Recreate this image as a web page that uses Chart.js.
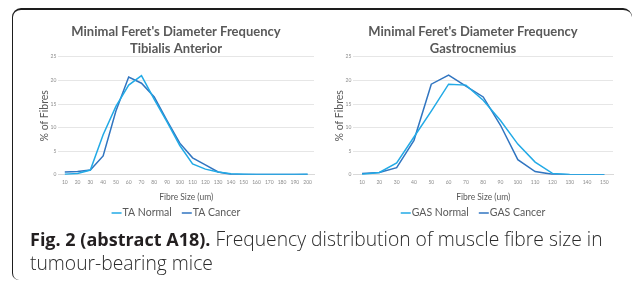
<!DOCTYPE html>
<html>
<head>
<meta charset="utf-8">
<script src="https://cdn.jsdelivr.net/npm/chart.js@4.4.1/dist/chart.umd.min.js"></script>
<style>
  html, body { margin: 0; padding: 0; background: #fff; }
  body { width: 635px; height: 281px; position: relative; overflow: hidden; font-family: Lato, "Open Sans", sans-serif; }
  .frame { position: absolute; left: 12px; top: 8px; width: 619px; height: 270px;
           border-top: 2px solid #1d1d1d; border-left: 1.5px solid #1d1d1d; border-right: 0; border-bottom: 0;
           border-top-left-radius: 9px; border-top-right-radius: 9px; border-bottom-left-radius: 7px; }
  .box { position: absolute; top: 12px; height: 214px; }
  #taBox { left: 28px; width: 292px; }
  #gasBox { left: 323px; width: 296px; }
  .caption { position: absolute; left: 30px; top: 227px; font-family: "Open Sans", Lato, sans-serif;
             font-size: 19.3px; line-height: 24px; color: #2b2b2b; white-space: nowrap; font-weight: 300; }
  .caption b { font-weight: 700; font-size: 18px; color: #231f20; }
</style>
</head>
<body>
<div class="frame"></div>
<div class="box" id="taBox"><canvas id="taChart"></canvas></div>
<div class="box" id="gasBox"><canvas id="gasChart"></canvas></div>
<div class="caption"><b>Fig. 2 (abstract A18).</b> Frequency distribution of muscle fibre size in<br>tumour-bearing mice</div>
<script>
// fibre size categories (um)
const taSizes  = ['10','20','30','40','50','60','70','80','90','100','110','120','130','140','150','160','170','180','190','200'];
const gasSizes = ['10','20','30','40','50','60','70','80','90','100','110','120','130','140','150'];

// % of fibres
const taNormal  = [0.1, 0.3, 1.0, 8.5, 14.5, 19.0, 21.0, 16.0, 11.2, 6.2, 2.3, 1.2, 0.6, 0.2, 0.1, 0.05, 0.05, 0.05, 0.05, 0.1];
const taCancer  = [0.6, 0.7, 1.0, 4.0, 13.5, 20.7, 19.4, 16.5, 11.5, 6.7, 3.6, 2.1, 0.6, 0.1, 0.05, 0.05, 0.05, 0.05, 0.05, 0.05];
const gasNormal = [0.1, 0.5, 2.5, 8.0, 13.5, 19.2, 19.0, 15.8, 11.5, 6.5, 2.7, 0.3, 0.05, 0, 0];
const gasCancer = [0.3, 0.5, 1.5, 7.3, 19.2, 21.1, 18.8, 16.5, 10.5, 3.2, 0.7, 0.1, 0, 0, 0];

const yTicks = [0, 5, 10, 15, 20, 25];

const NORMAL = '#22aae6';
const CANCER = '#3175c0';
const GREY   = '#595959';

// excel-style legend: short line glued to the label
const lineLegend = {
    id: 'lineLegend',
    afterDraw(chart) {
        const ctx = chart.ctx;
        const sets = chart.data.datasets;
        ctx.save();
        ctx.font = '10.5px Lato';
        const lineW = 10, gap = 1, sep = 10;
        const widths = sets.map(d => lineW + gap + ctx.measureText(d.label).width);
        const total = widths.reduce((a, b) => a + b, 0) + sep * (sets.length - 1);
        let x = chart.width / 2 - total / 2 + 2;
        const y = chart.height - 13;
        sets.forEach((d, i) => {
            ctx.strokeStyle = d.borderColor;
            ctx.lineWidth = 1.5;
            ctx.beginPath(); ctx.moveTo(x, y); ctx.lineTo(x + lineW, y); ctx.stroke();
            ctx.fillStyle = GREY;
            ctx.textBaseline = 'middle';
            ctx.fillText(d.label, x + lineW + gap, y);
            x += widths[i] + sep;
        });
        ctx.restore();
    }
};

function buildChart(id, sizes, normal, cancer, muscle, names) {
    new Chart(document.getElementById(id), {
        type: 'line',
        data: {
            labels: sizes,
            datasets: [
                { label: names[0], data: normal, borderColor: NORMAL, backgroundColor: NORMAL, borderWidth: 1.5, pointRadius: 0, tension: 0 },
                { label: names[1], data: cancer, borderColor: CANCER, backgroundColor: CANCER, borderWidth: 1.5, pointRadius: 0, tension: 0 }
            ]
        },
        plugins: [lineLegend],
        options: {
            responsive: true,
            maintainAspectRatio: false,
            animation: false,
            layout: { padding: { left: 10, right: 6, top: 0, bottom: 24 } },
            plugins: {
                title: {
                    display: true,
                    text: ["Minimal Feret's Diameter Frequency", muscle],
                    color: GREY,
                    font: { family: 'Lato', size: 13, weight: 'bold', lineHeight: 1.3 },
                    padding: { top: 11, bottom: 0 }
                },
                legend: { display: false },
                tooltip: { enabled: false }
            },
            scales: {
                x: {
                    offset: true,
                    grid: { display: false, drawTicks: false },
                    border: { color: '#d9d9d9' },
                    ticks: { color: '#8c8c8c', font: { family: 'Lato', size: 5 }, padding: 5, maxRotation: 0, autoSkip: false },
                    title: { display: true, text: 'Fibre Size (um)', color: GREY, font: { family: 'Lato', size: 8.5 }, padding: { top: 1, bottom: 0 } }
                },
                y: {
                    min: 0, max: 25,
                    afterBuildTicks: s => { s.ticks = yTicks.map(v => ({ value: v })); },
                    grid: { color: '#e6e6e6', drawTicks: false },
                    border: { display: false },
                    ticks: { color: '#8c8c8c', font: { family: 'Lato', size: 5 }, padding: 2 },
                    title: { display: true, text: '% of Fibres', color: GREY, font: { family: 'Lato', size: 10.5 }, padding: { top: 0, bottom: -2 } }
                }
            }
        }
    });
}

buildChart('taChart', taSizes, taNormal, taCancer, 'Tibialis Anterior', ['TA Normal', 'TA Cancer']);
buildChart('gasChart', gasSizes, gasNormal, gasCancer, 'Gastrocnemius', ['GAS Normal', 'GAS Cancer']);
</script>
</body>
</html>
